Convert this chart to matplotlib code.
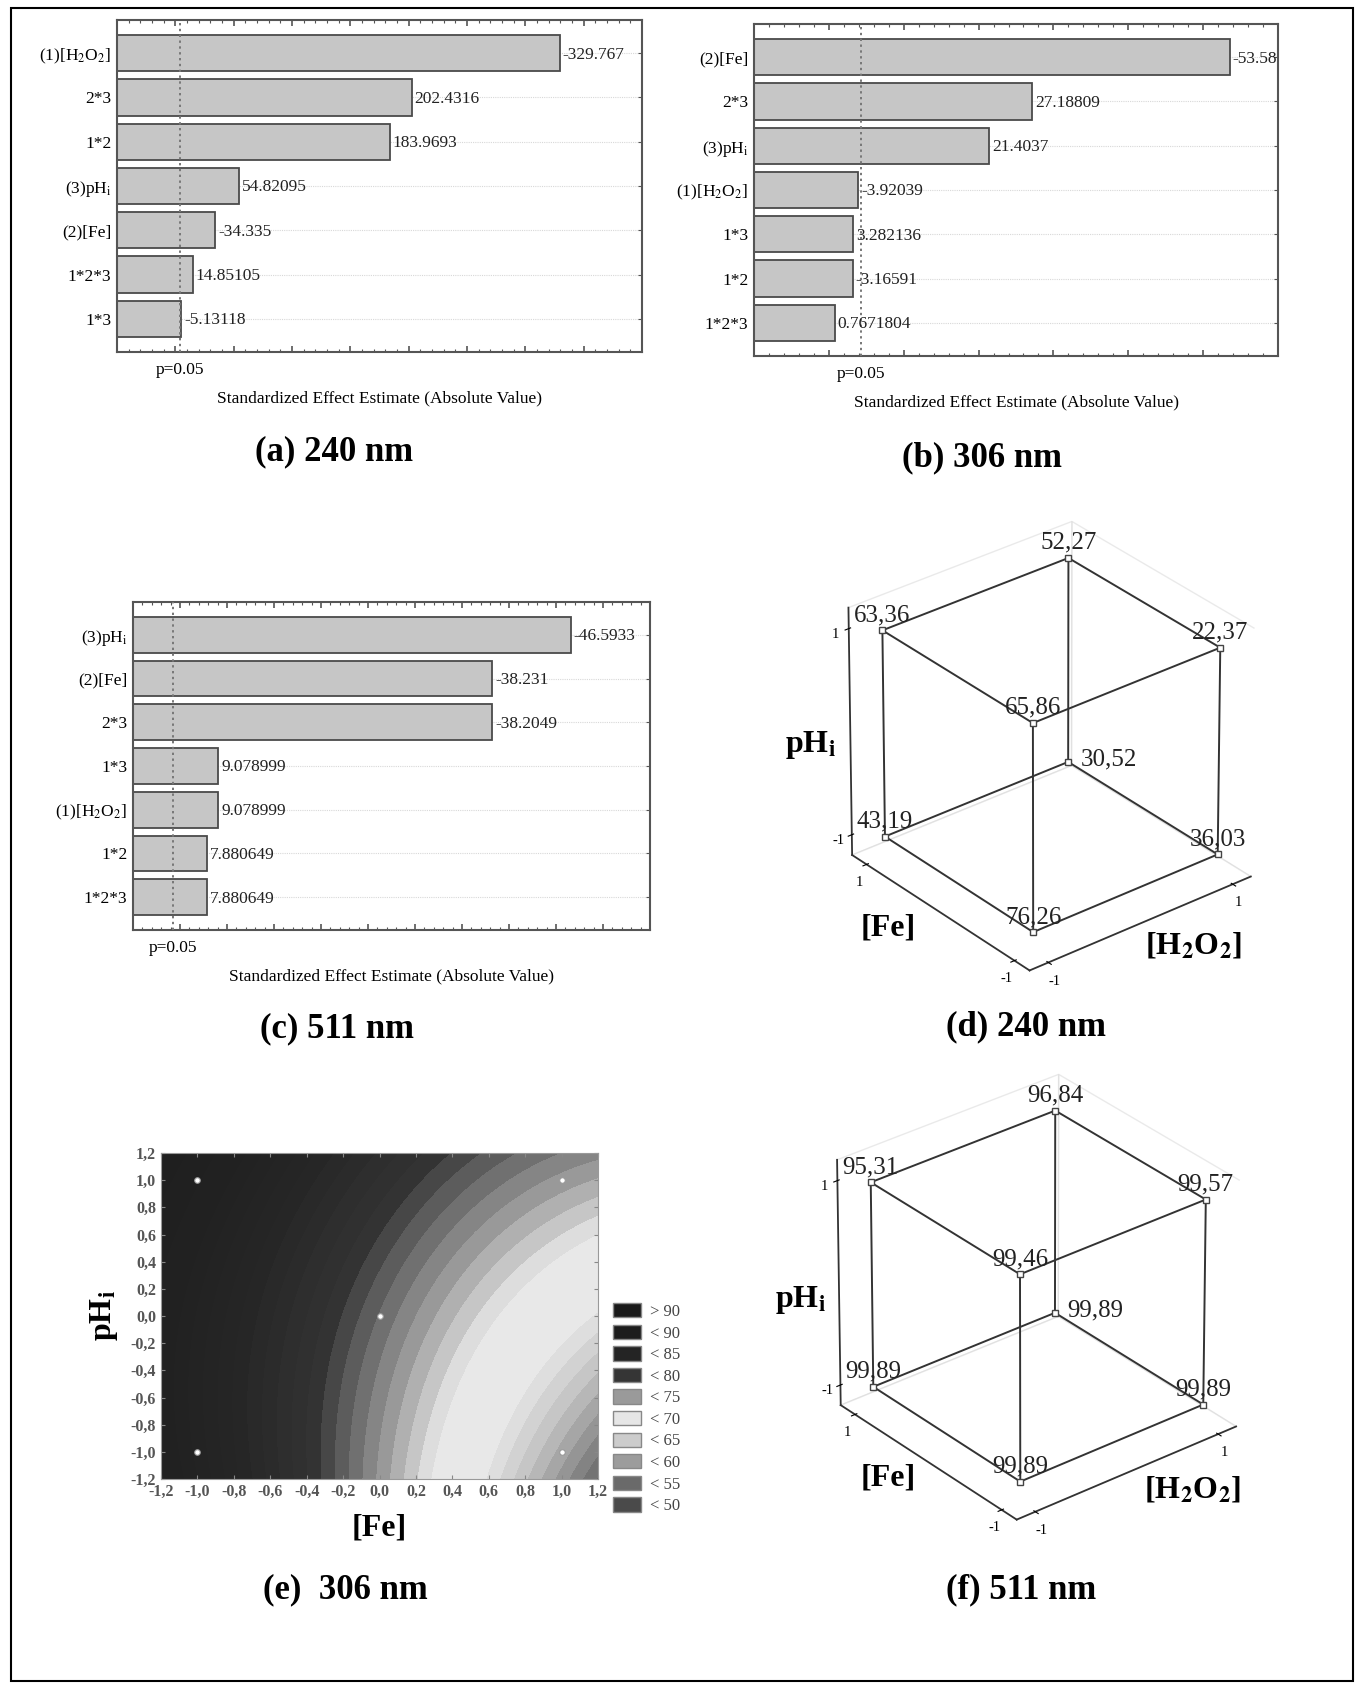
import numpy as np
import matplotlib
matplotlib.use("Agg")
import matplotlib.pyplot as plt
from matplotlib.patches import Patch, Rectangle
from matplotlib.ticker import MultipleLocator, FuncFormatter
from matplotlib.transforms import offset_copy, blended_transform_factory
from itertools import combinations

W, H = 1365, 1689
plt.rcParams['font.family'] = 'serif'
plt.rcParams['font.serif'] = ['Liberation Serif', 'DejaVu Serif']
plt.rcParams['mathtext.fontset'] = 'stix'
plt.rcParams['axes.unicode_minus'] = False

# ---- Pareto data ----
p_crit = 4.303

a_labels = ["(1)[H$_2$O$_2$]", "2*3", "1*2", "(3)pH$_\\mathrm{i}$", "(2)[Fe]", "1*2*3", "1*3"]
a_values = [-329.767, 202.4316, 183.9693, 54.82095, -34.335, 14.85105, -5.13118]

b_labels = ["(2)[Fe]", "2*3", "(3)pH$_\\mathrm{i}$", "(1)[H$_2$O$_2$]", "1*3", "1*2", "1*2*3"]
b_values = [-53.58, 27.18809, 21.4037, -3.92039, 3.282136, -3.16591, 0.7671804]

c_labels = ["(3)pH$_\\mathrm{i}$", "(2)[Fe]", "2*3", "1*3", "(1)[H$_2$O$_2$]", "1*2", "1*2*3"]
c_values = [-46.5933, -38.231, -38.2049, 9.078999, 9.078999, 7.880649, 7.880649]

# ---- cube data (x=[H2O2], y=[Fe], z=pHi) ----
cube_h2o2 = [-1, -1, -1, -1, 1, 1, 1, 1]
cube_fe = [-1, -1, 1, 1, -1, -1, 1, 1]
cube_ph = [-1, 1, -1, 1, -1, 1, -1, 1]
d_values = [76.26, 65.86, 43.19, 63.36, 36.03, 22.37, 30.52, 52.27]
f_values = [99.89, 99.46, 99.89, 95.31, 99.89, 99.57, 99.89, 96.84]

# ---- contour (e): points read along the band edges of the picture ----
band_fe = [-1.2, -1.2, -1.2,
           -0.43, -0.37, -0.29, 0.02, 0.32,
           -0.15, 0.13, 0.26, -0.1, 0.0, 0.25, 0.35,
           0.03, 0.15, 1.2,
           0.32, 0.45, 1.2,
           0.55, 0.8, 1.0, 1.2, 1.2, 1.2,
           0.7, 0.8, 1.2,
           0.9, 1.2, 1.0, 1.2, 1.08, 1.2, 1.13, 1.2, 1.2]
band_ph = [1.2, 0.0, -1.2,
           -1.2, -0.6, 0.0, 0.6, 1.2,
           -1.2, -1.2, -1.2, 0.0, 0.0, 0.0, 0.0,
           -1.2, 0.0, 1.2,
           -1.2, 0.0, 0.55,
           1.2, 1.2, 1.2, 1.0, 0.85, 0.7,
           -1.2, -0.6, -0.3,
           -1.2, -0.55, -1.2, -0.7, -1.2, -0.9, -1.2, -1.05, -1.2]
band_z = [92, 90, 88,
          78, 78, 78, 78, 78,
          75, 70.7, 69.7, 76.4, 74.2, 70.7, 69.7,
          72.2, 72.2, 72.2,
          69, 69, 69,
          77.3, 75.5, 74, 71.1, 70.5, 69.7,
          65.5, 65.5, 65.5,
          62, 62, 60.2, 60.6, 58.3, 58.6, 56.3, 56.3, 55]
design_fe = [-1, 1, 0, -1, 1]
design_ph = [1, 1, 0, -1, -1]
legend_labels = ["> 90", "< 90", "< 85", "< 80", "< 75", "< 70", "< 65", "< 60", "< 55", "< 50"]
legend_colors = ["#1a1a1a", "#1c1c1c", "#242424", "#353535", "#9a9a9a",
                 "#e6e6e6", "#cccccc", "#9c9c9c", "#6a6a6a", "#4a4a4a"]
shade_z = [50, 54, 56, 58, 60, 62, 64, 65.5, 69, 72.5, 77.5, 82.5, 87.5, 92.5]
shade_gray = [0.29, 0.31, 0.36, 0.48, 0.62, 0.75, 0.85, 0.91, 0.91, 0.60, 0.20, 0.15, 0.13, 0.12]

fig = plt.figure(figsize=(W / 100, H / 100), dpi=100)


def rect(x0, y0, x1, y1):
    return [x0 / W, 1 - y1 / H, (x1 - x0) / W, (y1 - y0) / H]


def pareto(box, labels, values, xmin, xmax, major, minor):
    ax = fig.add_axes(rect(*box))
    y = np.arange(len(values))
    mags = np.abs(values)
    for yi in y:
        ax.axhline(yi, color='#d8d8d8', lw=0.8, ls=(0, (1, 1)), zorder=0)
    ax.barh(y, mags - xmin, left=xmin, height=0.82, color='#c6c6c6',
            edgecolor='#4a4a4a', linewidth=1.3, zorder=2)
    ax.axvline(p_crit, color='#777777', ls=(0, (1.2, 1.8)), lw=1.4, zorder=3)
    for yi, v, m in zip(y, values, mags):
        ax.annotate(str(v), (m, yi), xytext=(2, -1), textcoords='offset points',
                    va='center', ha='left', fontsize=12.5, color='#222222', zorder=4)
    ax.set_xlim(xmin, xmax)
    ax.set_ylim(len(values) - 0.25, -0.75)
    ax.set_yticks(y)
    ax.set_yticklabels(labels, fontsize=12.5)
    ax.xaxis.set_major_locator(MultipleLocator(major))
    ax.xaxis.set_minor_locator(MultipleLocator(minor))
    ax.tick_params(axis='x', which='both', direction='in', top=True, bottom=True,
                   labelbottom=False, color='#555555')
    ax.tick_params(axis='x', which='major', length=4, width=1.2)
    ax.tick_params(axis='x', which='minor', length=2.5, width=0.8)
    ax.tick_params(axis='y', direction='in', left=True, right=True, length=3,
                   color='#555555', pad=4)
    for s in ax.spines.values():
        s.set_color('#555555')
        s.set_linewidth(1.5)
    tr = blended_transform_factory(ax.transData, ax.transAxes)
    ax.text(p_crit, -0.055, "p=0.05", transform=tr, ha='center', va='center', fontsize=12.5)
    ax.text(0.5, -0.14, "Standardized Effect Estimate (Absolute Value)",
            transform=ax.transAxes, ha='center', va='center', fontsize=12.5)
    return ax


pareto((117, 20, 642, 352), a_labels, a_values, -50, 400, 50, 10)
pareto((754, 24, 1278, 356), b_labels, b_values, -10, 60, 10, 2)
pareto((133, 602, 650, 930), c_labels, c_values, 0, 55, 5, 1)


def cube(box, values, lab_pos):
    ax = fig.add_axes(rect(*box), projection='3d')
    ax.set_proj_type('persp', focal_length=3)
    ax.view_init(elev=30, azim=-129)
    ax.set_box_aspect((1, 1, 1))
    ax.set_xlim(-1.2, 1.2)
    ax.set_ylim(-1.2, 1.2)
    ax.set_zlim(-1.2, 1.2)
    ax.grid(False)
    for axis in (ax.xaxis, ax.yaxis, ax.zaxis):
        axis.pane.set_facecolor('white')
        axis.pane.set_edgecolor('#d5d5d5')
        axis.line.set_color('#333333')
        axis.line.set_linewidth(1.3)
        axis.set_ticks([-1, 1])
    ax.tick_params(labelsize=10.5, pad=-2)
    corners = list(zip(cube_h2o2, cube_fe, cube_ph))
    for i, j in combinations(range(len(corners)), 2):
        if sum(a != b for a, b in zip(corners[i], corners[j])) == 1:
            xs, ys, zs = zip(corners[i], corners[j])
            ax.plot(xs, ys, zs, color='#333333', lw=1.4)
    ax.plot(cube_h2o2, cube_fe, cube_ph, ls='none', marker='s', ms=5,
            mfc='white', mec='#444444', mew=1)
    for (x, y, z), v in zip(corners, values):
        if (x, y, z) == (1, 1, -1):
            off, ha, va = (9, 2), 'left', 'center'
        else:
            off, ha, va = (0, 3), 'center', 'bottom'
        ax.text(x, y, z, f"{v:.2f}".replace('.', ','), ha=ha, va=va, fontsize=18,
                color='#222222',
                transform=offset_copy(ax.transData, fig=fig, x=off[0], y=off[1], units='points'))
    (px, py), (fx, fy), (hx, hy) = lab_pos
    fig.text(px / W, 1 - py / H, "pH$_\\mathbf{i}$", fontsize=23, fontweight='bold', ha='center', va='center')
    fig.text(fx / W, 1 - fy / H, "[Fe]", fontsize=23, fontweight='bold', ha='center', va='center')
    fig.text(hx / W, 1 - hy / H, "[H$_\\mathbf{2}$O$_\\mathbf{2}$]", fontsize=23, fontweight='bold',
             ha='center', va='center')
    return ax


cube((804, 509, 1285, 990), d_values, [(810, 745), (888, 928), (1193, 945)])
cube((793, 1062, 1270, 1539), f_values, [(800, 1300), (888, 1478), (1192, 1490)])

# ---- contour (e): response surface fitted to the band points ----
bf, bp, bz = np.array(band_fe), np.array(band_ph), np.array(band_z)
powers = [(0, 0), (1, 0), (0, 1), (1, 1), (2, 0), (0, 2), (2, 1), (1, 2)]
A = np.column_stack([bf ** i * bp ** j for i, j in powers])
coef = np.linalg.lstsq(A, bz, rcond=None)[0]
g = np.linspace(-1.2, 1.2, 241)
FE, PH = np.meshgrid(g, g)
Z = sum(c * FE ** i * PH ** j for c, (i, j) in zip(coef, powers))

levels = np.arange(40, 106, 1.0)
mids = (levels[:-1] + levels[1:]) / 2
band_gray = np.interp(mids, shade_z, shade_gray)
ax = fig.add_axes(rect(161, 1153, 598, 1479))
ax.contourf(FE, PH, Z, levels=levels, colors=[(v, v, v) for v in band_gray], extend='both')
ax.plot(design_fe, design_ph, ls='none', marker='o', ms=4, mfc='white', mec='#999999', mew=0.8)
ax.set_xlim(-1.2, 1.2)
ax.set_ylim(-1.2, 1.2)
fmt = FuncFormatter(lambda v, pos: f"{v:.1f}".replace('.', ',').replace('-0,0', '0,0'))
ax.xaxis.set_major_locator(MultipleLocator(0.2))
ax.yaxis.set_major_locator(MultipleLocator(0.2))
ax.xaxis.set_major_formatter(fmt)
ax.yaxis.set_major_formatter(fmt)
ax.tick_params(direction='in', top=True, right=True, length=3, labelsize=11.5,
               labelcolor='#555555', color='#888888')
for lab in ax.get_xticklabels() + ax.get_yticklabels():
    lab.set_fontweight('bold')
for s in ax.spines.values():
    s.set_color('#999999')
ax.set_xlabel("[Fe]", fontsize=23, fontweight='bold', labelpad=10)
ax.set_ylabel("pH$_\\mathbf{i}$", fontsize=23, fontweight='bold', labelpad=8)

handles = [Patch(facecolor=c, edgecolor='#888888', label=l) for c, l in zip(legend_colors, legend_labels)]
fig.legend(handles=handles, loc='upper left', bbox_to_anchor=(613 / W, 1 - 1303 / H),
           frameon=False, fontsize=12, handlelength=1.7, handleheight=0.95,
           handletextpad=0.5, labelspacing=0.28, borderpad=0, borderaxespad=0,
           labelcolor='#444444')

# ---- panel captions ----
captions = ["(a) 240 nm", "(b) 306 nm", "(c) 511 nm", "(d) 240 nm", "(e)  306 nm", "(f) 511 nm"]
caption_xy = [(334, 452), (982, 458), (337, 1029), (1026, 1027), (345, 1590), (1021, 1590)]
for t, (x, y) in zip(captions, caption_xy):
    fig.text(x / W, 1 - y / H, t, fontsize=25, fontweight='bold', ha='center', va='center')

fig.add_artist(Rectangle((0.008, 0.005), 0.983, 0.99, transform=fig.transFigure,
                         fill=False, lw=1.5, ec='black'))

fig.savefig("out.png", dpi=100)
